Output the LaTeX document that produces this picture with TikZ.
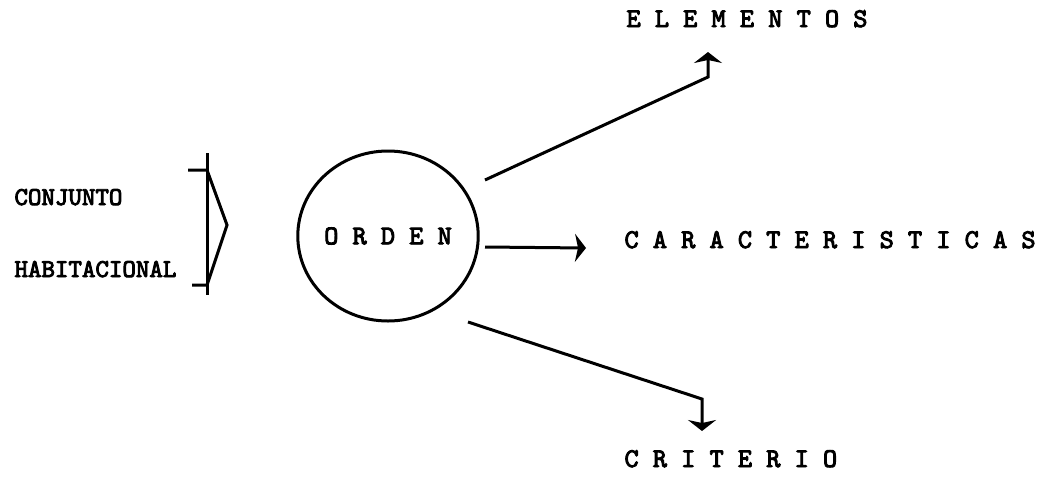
\documentclass[tikz,border=0pt]{standalone}
\usepackage{fontspec}
\setmonofont{lmmono10-regular}[Extension=.otf, AutoFakeBold=3.5]
\usetikzlibrary{arrows.meta, shapes.geometric}

\begin{document}
\begin{tikzpicture}[>={Stealth[width=28pt, length=11pt, inset=3pt]}, x=1pt, y=-1pt, line width=3pt,
    lbl/.style={inner sep=0pt, anchor=base west, font=\ttfamily\bfseries\fontsize{27}{32}\selectfont},
    side/.style={lbl, font=\ttfamily\bfseries\fontsize{25.7}{30}\selectfont}]
    \useasboundingbox (0,0) rectangle (1043,477);

    \node[side] (conj) at (13,205) {CONJUNTO};
    \node[side] (hab) at (13,277) {HABITACIONAL};
    \node[draw, ellipse, inner sep=0pt, minimum width=154, minimum height=170,
          font=\ttfamily\bfseries\fontsize{27}{32}\selectfont] (orden) at (388,236) {O R D E N};
    \node[lbl] (elem) at (625,27) {E L E M E N T O S};
    \node[lbl] (carac) at (623,248) {C A R A C T E R I S T I C A S};
    \node[lbl] (crit) at (623,467) {C R I T E R I O};

    % llave
    \coordinate (b1) at (207,153);
    \coordinate (b2) at (207,295);
    \coordinate (k1) at (188,170);
    \coordinate (k2) at (192,285);
    \coordinate (tip) at (227,225);
    \draw (b1) -- (b2);
    \draw (k1) -- (k1 -| b1) -- (tip) -- (k2 -| b1) -- (k2);

    % flechas
    \coordinate (s1) at (485,180);
    \coordinate (s2) at (485,247);
    \coordinate (s3) at (468,322);
    \coordinate (c1) at (708,77);
    \coordinate (c3) at (702,399);
    \coordinate (e1) at (708,52);
    \coordinate (e2) at (586,248);
    \coordinate (e3) at (702,431);
    \draw[->] (s1) -- (c1) -- (e1);
    \draw[->] (s2) -- (e2);
    \draw[->] (s3) -- (c3) -- (e3);
\end{tikzpicture}
\end{document}
